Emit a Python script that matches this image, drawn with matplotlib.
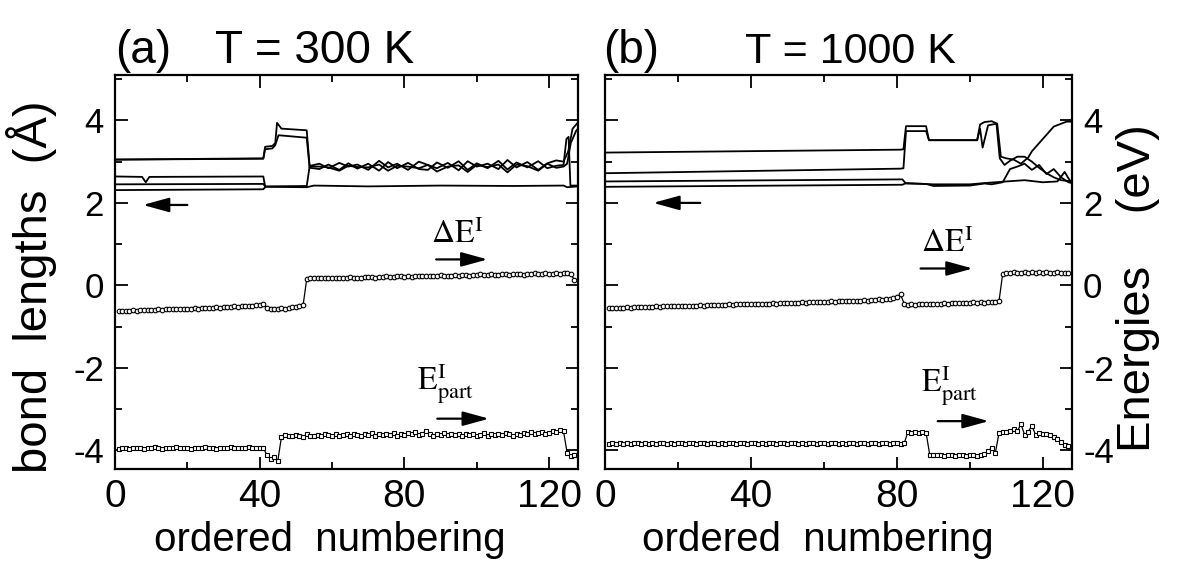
import numpy as np
import matplotlib
matplotlib.use('Agg')
import matplotlib.pyplot as plt
from matplotlib.ticker import MultipleLocator

plt.rcParams['font.family'] = ['Liberation Sans', 'DejaVu Sans']
plt.rcParams['mathtext.fontset'] = 'stix'
plt.rcParams['axes.unicode_minus'] = False

# ordered numbering of the sites
numbering = np.arange(1, 128)

# ---- (a) T = 300 K ----
dE_300 = [-0.62, -0.61, -0.62, -0.61, -0.60, -0.61, -0.60, -0.60, -0.59, -0.60,
          -0.59, -0.58, -0.59, -0.58, -0.57, -0.58, -0.57, -0.56, -0.57, -0.56,
          -0.56, -0.55, -0.56, -0.55, -0.54, -0.55, -0.54, -0.53, -0.54, -0.53,
          -0.52, -0.52, -0.51, -0.52, -0.50, -0.51, -0.50, -0.49, -0.48, -0.47,
          -0.45,
          -0.55, -0.56, -0.57, -0.56, -0.55, -0.56, -0.54, -0.53, -0.52, -0.50, -0.48,
          0.15, 0.17, 0.18, 0.17, 0.18, 0.19, 0.18, 0.17, 0.18, 0.19,
          0.18, 0.19, 0.20, 0.19, 0.18, 0.19, 0.20, 0.21, 0.20, 0.19,
          0.21, 0.20, 0.22, 0.21, 0.20, 0.22, 0.23, 0.21, 0.22, 0.21,
          0.23, 0.22, 0.24, 0.23, 0.22, 0.24, 0.23, 0.25, 0.24, 0.23,
          0.24, 0.25, 0.24, 0.26, 0.25, 0.24, 0.26, 0.25, 0.27, 0.26,
          0.25, 0.27, 0.26, 0.25, 0.27, 0.28, 0.26, 0.27, 0.28, 0.27,
          0.26, 0.28, 0.27, 0.29, 0.28, 0.27, 0.29, 0.28, 0.27, 0.29,
          0.28, 0.30, 0.29, 0.28,
          0.13]

Epart_300 = [-3.96, -3.94, -3.95, -3.97, -3.93, -3.95, -3.94, -3.96, -3.93, -3.95,
             -3.92, -3.94, -3.96, -3.93, -3.95, -3.94, -3.92, -3.95, -3.93, -3.94,
             -3.96, -3.93, -3.95, -3.94, -3.92, -3.95, -3.93, -3.96, -3.94, -3.93,
             -3.95, -3.92, -3.94, -3.93, -3.95, -3.94, -3.92, -3.93, -3.95, -3.94,
             -3.93,
             -4.12, -4.20, -4.16, -4.26,
             -3.68, -3.62, -3.64, -3.66, -3.63, -3.65, -3.67, -3.61, -3.64, -3.66,
             -3.62, -3.65, -3.60, -3.63, -3.66, -3.61, -3.64, -3.62, -3.59, -3.65,
             -3.61, -3.63, -3.66, -3.60, -3.62, -3.58, -3.64, -3.61, -3.63, -3.59,
             -3.62, -3.57, -3.64, -3.60, -3.62, -3.58, -3.61, -3.56, -3.63, -3.59,
             -3.52, -3.61, -3.64, -3.60, -3.62, -3.58, -3.63, -3.60, -3.62, -3.59,
             -3.64, -3.61, -3.63, -3.60, -3.65, -3.62, -3.58, -3.64, -3.60, -3.62,
             -3.59, -3.63, -3.57, -3.61, -3.64, -3.59, -3.62, -3.58, -3.60, -3.56,
             -3.61, -3.58, -3.55, -3.60, -3.57, -3.53, -3.56, -3.50, -3.54,
             -4.06, -4.14, -4.10]

tangle_x = [54, 56.5, 59, 62, 64.5, 67, 70, 73, 75.5, 78, 81, 84, 86.5,
            89, 92, 95, 97.5, 100, 103, 106, 108.5, 111, 114, 117, 119.5, 122]

bond1_300_x = [0.5, 41, 41.5, 43.5, 44.3, 44.8, 46, 53, 53.8] + tangle_x + [124, 125.3, 126.5, 127.5, 128]
bond1_300_y = [3.05, 3.08, 3.36, 3.38, 3.45, 3.94, 3.80, 3.76, 2.90,
               2.90, 2.95, 2.84, 2.97, 2.88, 2.93, 2.80, 3.02, 2.86, 2.95, 2.80, 3.00,
               2.92, 2.84, 2.97, 2.79, 3.01, 2.88, 2.95, 2.82, 3.04, 2.86, 2.99, 2.80,
               2.96, 3.03, 3.00, 3.25, 3.80, 3.90, 3.95]
bond2_300_x = [0.5, 41, 41.5, 43.5, 44.3, 45.2, 53, 53.8] + tangle_x + [124, 124.8, 125.4, 125.9, 128]
bond2_300_y = [3.05, 3.07, 3.30, 3.32, 3.40, 3.64, 3.58, 2.85,
               2.85, 2.82, 2.93, 2.80, 2.96, 2.83, 2.95, 2.78, 2.99, 2.84, 2.97, 2.82,
               2.80, 2.98, 2.85, 3.01, 2.80, 2.96, 2.84, 3.02, 2.81, 2.98, 2.86, 3.01,
               2.84, 2.90, 2.92, 3.55, 3.60, 2.42, 2.42]
bond3_300_x = [0.5, 7.5, 8.5, 9.5, 41, 41.5, 53, 53.8] + tangle_x + [124, 125, 126, 127.5, 128]
bond3_300_y = [2.64, 2.63, 2.50, 2.63, 2.64, 2.40, 2.41, 2.88,
               2.88, 2.88, 2.86, 2.78, 2.90, 2.87, 2.86, 2.93, 2.78, 2.90, 2.88, 2.84,
               2.92, 2.76, 2.88, 2.91, 2.75, 2.92, 2.87, 2.93, 2.74, 2.93, 2.89, 2.78,
               2.95, 2.85, 2.88, 2.95, 3.45, 3.75, 3.80]
bond4_300_x = [0.5, 41, 41.6, 53, 55, 70, 90, 110, 124, 125, 128]
bond4_300_y = [2.45, 2.46, 2.39, 2.38, 2.42, 2.40, 2.42, 2.41, 2.42, 2.38, 2.40]
bond5_300_x = [0.5, 41, 41.6]
bond5_300_y = [2.31, 2.33, 2.39]

# ---- (b) T = 1000 K ----
dE_1000 = [-0.55, -0.54, -0.55, -0.54, -0.54, -0.53, -0.54, -0.53, -0.53, -0.52,
           -0.53, -0.52, -0.52, -0.51, -0.52, -0.51, -0.51, -0.50, -0.51, -0.50,
           -0.50, -0.49, -0.50, -0.49, -0.49, -0.48, -0.49, -0.48, -0.48, -0.47,
           -0.48, -0.47, -0.47, -0.46, -0.47, -0.46, -0.46, -0.45, -0.46, -0.45,
           -0.45, -0.44, -0.45, -0.44, -0.44, -0.43, -0.44, -0.43, -0.43, -0.42,
           -0.43, -0.42, -0.42, -0.41, -0.42, -0.41, -0.41, -0.40, -0.41, -0.40,
           -0.40, -0.39, -0.40, -0.39, -0.38, -0.39, -0.38, -0.37, -0.38, -0.37,
           -0.36, -0.37, -0.36, -0.35, -0.34, -0.35, -0.33, -0.32, -0.30,
           -0.27, -0.22,
           -0.44, -0.47, -0.46, -0.47, -0.46, -0.45, -0.46, -0.45, -0.44, -0.45,
           -0.44, -0.43, -0.44, -0.43, -0.42, -0.43, -0.42, -0.43, -0.42, -0.41,
           -0.42, -0.41, -0.42, -0.41, -0.40, -0.41, -0.38,
           0.28, 0.31, 0.30, 0.32, 0.31, 0.30, 0.33, 0.31, 0.32, 0.30,
           0.32, 0.31, 0.33, 0.30, 0.31, 0.32, 0.30, 0.31, 0.29]

Epart_1000 = [-3.84, -3.83, -3.85, -3.82, -3.84, -3.83, -3.85, -3.83, -3.82, -3.84,
              -3.83, -3.85, -3.82, -3.84, -3.83, -3.82, -3.84, -3.83, -3.85, -3.82,
              -3.83, -3.84, -3.82, -3.83, -3.85, -3.83, -3.82, -3.84, -3.83, -3.82,
              -3.84, -3.83, -3.85, -3.82, -3.83, -3.84, -3.82, -3.83, -3.84, -3.82,
              -3.83, -3.85, -3.82, -3.84, -3.83, -3.82, -3.84, -3.83, -3.82, -3.84,
              -3.83, -3.82, -3.84, -3.83, -3.85, -3.82, -3.83, -3.84, -3.82, -3.83,
              -3.84, -3.82, -3.83, -3.85, -3.82, -3.84, -3.83, -3.82, -3.84, -3.83,
              -3.82, -3.84, -3.83, -3.82, -3.84, -3.83, -3.82, -3.84, -3.83, -3.82,
              -3.84, -3.83,
              -3.56, -3.57, -3.56, -3.57, -3.56, -3.57,
              -4.10, -4.12, -4.10, -4.11, -4.13, -4.10, -4.12, -4.14, -4.11, -4.10,
              -4.13, -4.12, -4.10, -4.14, -4.12, -4.09,
              -4.02, -3.93, -4.06,
              -3.57, -3.55, -3.56, -3.52, -3.47, -3.54, -3.36, -3.62, -3.55, -3.40,
              -3.62, -3.58, -3.60, -3.59, -3.62, -3.68, -3.72, -3.80, -3.86, -3.90]

bond1_1000_x = [0.5, 81, 81.8, 82.5, 88, 88.8, 102, 102.8, 104, 106, 107.5, 108.5,
                110, 112, 114, 116, 117, 120.5, 123, 126.5, 128]
bond1_1000_y = [3.22, 3.29, 3.30, 3.86, 3.86, 3.52, 3.52, 3.90, 3.96, 3.98, 3.92, 3.12,
                3.08, 3.05, 2.95, 3.10, 3.25, 3.60, 3.85, 3.97, 3.97]
bond2_1000_x = [0.5, 81, 81.8, 82.5, 88, 88.8, 102, 102.8, 103.5, 105, 107.3, 108.2,
                109.5, 111, 113, 115, 117, 119, 121, 123, 125, 128]
bond2_1000_y = [2.72, 2.83, 2.84, 3.74, 3.74, 3.52, 3.52, 3.80, 3.34, 3.88, 3.92, 3.08,
                2.92, 3.02, 3.12, 3.12, 3.00, 2.85, 2.72, 2.62, 2.55, 2.52]
bond3_1000_x = [0.5, 81.5, 82.5, 88, 90, 100, 104, 106, 109, 111, 113, 115, 117,
                119, 121, 123, 125, 127, 128]
bond3_1000_y = [2.52, 2.57, 2.47, 2.46, 2.41, 2.42, 2.47, 2.45, 2.50, 2.82, 2.88, 2.95, 2.80,
                2.92, 2.70, 2.82, 2.62, 2.50, 2.48]
bond4_1000_x = [0.5, 81.5, 82.5, 90, 100, 104, 110, 115, 120, 124, 126, 127, 128]
bond4_1000_y = [2.39, 2.44, 2.48, 2.45, 2.45, 2.48, 2.52, 2.55, 2.50, 2.52, 2.75, 2.60, 2.48]

W, H = 1178, 562
fig = plt.figure(figsize=(W / 100, H / 100), dpi=100)
ax_a = fig.add_axes([115 / W, 1 - 469 / H, 463 / W, 394 / H])
ax_b = fig.add_axes([605 / W, 1 - 469 / H, 467 / W, 394 / H])

for ax in (ax_a, ax_b):
    ax.set_xlim(0, 128)
    ax.set_ylim(-4.45, 5.1)
    ax.xaxis.set_major_locator(MultipleLocator(40))
    ax.xaxis.set_minor_locator(MultipleLocator(20))
    ax.yaxis.set_major_locator(MultipleLocator(2))
    ax.yaxis.set_minor_locator(MultipleLocator(1))
    ax.tick_params(which='both', direction='in', top=True, right=True, width=1.3)
    ax.tick_params(which='major', length=9)
    ax.tick_params(which='minor', length=5)
    ax.tick_params(axis='x', labelsize=28, pad=7)
    ax.tick_params(axis='y', labelsize=25, pad=8)
    for s in ax.spines.values():
        s.set_linewidth(1.6)

ax_a.tick_params(labelright=False)
ax_b.tick_params(labelleft=False, labelright=True)

# bond lengths
for xs, ys in [(bond1_300_x, bond1_300_y), (bond2_300_x, bond2_300_y),
               (bond3_300_x, bond3_300_y), (bond4_300_x, bond4_300_y),
               (bond5_300_x, bond5_300_y)]:
    ax_a.plot(xs, ys, color='black', linewidth=1.3)
for xs, ys in [(bond1_1000_x, bond1_1000_y), (bond2_1000_x, bond2_1000_y),
               (bond3_1000_x, bond3_1000_y), (bond4_1000_x, bond4_1000_y)]:
    ax_b.plot(xs, ys, color='black', linewidth=1.3)

# energies
for ax, de, ep in [(ax_a, dE_300, Epart_300), (ax_b, dE_1000, Epart_1000)]:
    ax.plot(numbering, de, color='black', linewidth=0.9, marker='o', markersize=3.3,
            markerfacecolor='white', markeredgecolor='black', markeredgewidth=0.8)
    ax.plot(numbering, ep, color='black', linewidth=0.9, marker='s', markersize=3.3,
            markerfacecolor='white', markeredgecolor='black', markeredgewidth=0.8)

arrow = dict(arrowstyle='-|>,head_length=0.8,head_width=0.22', lw=1.6, color='black',
             shrinkA=0, shrinkB=0, mutation_scale=20)

# (a) annotations
ax_a.annotate('', xy=(7.7, 1.95), xytext=(20, 1.95), arrowprops=arrow)
ax_a.annotate('', xy=(103, 0.63), xytext=(88.8, 0.63), arrowprops=arrow)
ax_a.annotate('', xy=(103.4, -3.23), xytext=(89.1, -3.23), arrowprops=arrow)
ax_a.text(87.4, 1.02, r'$\Delta\mathrm{E}^{\mathrm{I}}$', fontsize=23, ha='left', va='baseline')
ax_a.text(83.6, -2.56, r'$\mathrm{E}^{\mathrm{I}}_{\mathrm{part}}$', fontsize=23,
          ha='left', va='baseline')

# (b) annotations
ax_b.annotate('', xy=(13.2, 2.0), xytext=(26.1, 2.0), arrowprops=arrow)
ax_b.annotate('', xy=(100.8, 0.41), xytext=(86.5, 0.41), arrowprops=arrow)
ax_b.annotate('', xy=(105.2, -3.29), xytext=(91.2, -3.29), arrowprops=arrow)
ax_b.text(86.5, 0.81, r'$\Delta\mathrm{E}^{\mathrm{I}}$', fontsize=23, ha='left', va='baseline')
ax_b.text(86.5, -2.6, r'$\mathrm{E}^{\mathrm{I}}_{\mathrm{part}}$', fontsize=23,
          ha='left', va='baseline')

# titles
fig.text(115 / W, 1 - 63 / H, '(a)', fontsize=33, ha='left', va='baseline')
fig.text(215 / W, 1 - 63 / H, 'T = 300 K', fontsize=33, ha='left', va='baseline')
fig.text(603 / W, 1 - 63 / H, '(b)', fontsize=33, ha='left', va='baseline')
fig.text(745 / W, 1 - 63 / H, 'T = 1000 K', fontsize=31, ha='left', va='baseline')

# axis labels
fig.text(330 / W, 1 - 551 / H, 'ordered  numbering', fontsize=29, ha='center', va='baseline')
fig.text(818 / W, 1 - 551 / H, 'ordered  numbering', fontsize=29, ha='center', va='baseline')
fig.text(32 / W, 1 - 287 / H, 'bond  lengths  (Å)', fontsize=34, rotation=90,
         ha='center', va='center')
fig.text(1138 / W, 1 - 288 / H, 'Energies    (eV)', fontsize=34, rotation=90,
         ha='center', va='center')

fig.savefig('out.png', dpi=100)
